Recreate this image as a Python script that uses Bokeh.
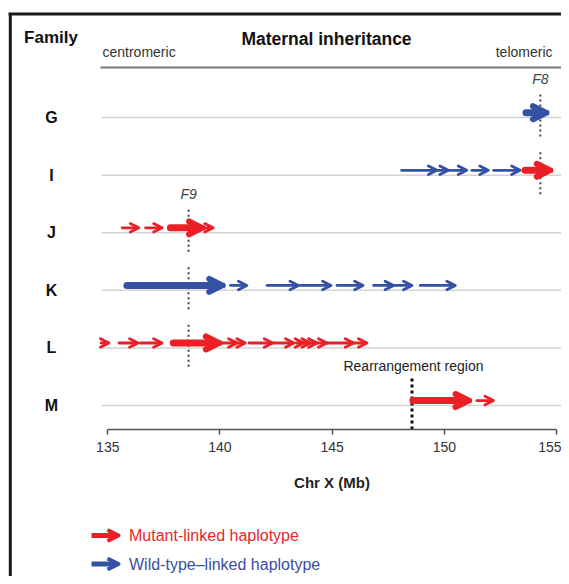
from bokeh.plotting import figure
from bokeh.models import Range1d, LinearAxis, FixedTicker, Arrow, OpenHead, ColumnDataSource
from bokeh.core.properties import value
from bokeh.embed import file_html
from bokeh.resources import INLINE

# ---------------- data ----------------
families = ["G", "I", "J", "K", "L", "M"]
row_values = [6, 5, 4, 3, 2, 1]

arrow_family = (["G"] + ["I"] * 6 + ["J"] * 4 + ["K"] * 8 + ["L"] * 14 + ["M"] * 2)
arrow_start = [153.64,
               148.10, 149.67, 150.18, 151.23, 152.20, 153.60,
               135.64, 136.68, 137.79, 139.20,
               135.85, 140.47, 142.10, 143.58, 145.22, 146.85, 147.74, 148.93,
               134.70, 135.50, 136.45, 137.92, 139.95, 140.76, 141.30, 142.35,
               143.40, 143.73, 144.03, 144.33, 144.77, 145.96,
               148.60, 151.45]
arrow_end = [154.53,
             149.67, 150.18, 151.00, 151.96, 153.38, 154.70,
             136.38, 137.42, 139.20, 139.70,
             140.10, 141.20, 143.50, 144.95, 146.38, 147.74, 148.56, 150.49,
             135.05, 136.35, 137.42, 139.95, 140.76, 141.13, 142.35, 143.30,
             143.73, 144.03, 144.33, 144.77, 145.96, 146.55,
             151.08, 152.19]
arrow_haplotype = (["wt"]
                   + ["wt"] * 5 + ["mut"]
                   + ["mut"] * 4
                   + ["wt"] * 8
                   + ["mut"] * 14
                   + ["mut"] * 2)
arrow_weight = (["thick"]
                + ["thin"] * 5 + ["thick"]
                + ["thin", "thin", "thick", "thin"]
                + ["thick"] + ["thin"] * 7
                + ["thin"] * 3 + ["thick"] + ["thin"] * 10
                + ["thick", "thin"])

gene_names = ["F8", "F9"]
gene_pos = [154.28, 138.60]
gene_rows = [["G", "I"], ["J", "K", "L"]]
rearrangement_pos = 148.56
rearrangement_label = "Rearrangement region"

x_ticks = [135, 140, 145, 150, 155]
legend_labels = ["Mutant-linked haplotype", "Wild-type\u2013linked haplotype"]
legend_keys = ["mut", "wt"]

# ---------------- styles / layout helpers ----------------
FONT = value("Liberation Sans")
COL = {"mut": "#ec1f26", "wt": "#3451a3"}
TXT_COL = {"mut": "#e8262b", "wt": "#3b4ea0"}

PX_PER_MB = 22.435
X135 = 107.3
ROW_PX = 57.57
G_PX = 117.1


def X(px):
    return 135 + (px - X135) / PX_PER_MB


def Y(py):
    return 6 - (py - G_PX) / ROW_PX


W, H = 561, 576
row_of = dict(zip(families, row_values))

p = figure(width=W, height=H, output_backend="svg", toolbar_location=None,
           x_range=Range1d(X(0), X(W)), y_range=Range1d(Y(H), Y(0)),
           x_axis_location=None, y_axis_location=None, min_border=0)
p.outline_line_color = None
p.background_fill_color = "white"
p.border_fill_color = "white"
p.xgrid.visible = False
p.ygrid.visible = False

# frame lines (left and top)
p.segment(x0=[X(9.8), X(8)], y0=[Y(13.5), Y(13.5)], x1=[X(9.8), X(W + 2)], y1=[Y(H + 2), Y(13.5)],
          line_color="#1a1a1a", line_width=3)

# top rule
p.segment(x0=[X(100)], y0=[Y(67)], x1=[X(563)], y1=[Y(67)], line_color="#7a7a7a", line_width=2)

# gridlines per family
p.segment(x0=[X(101)] * len(families), y0=row_values, x1=[X(563)] * len(families), y1=row_values,
          line_color="#d4d4d4", line_width=1.5)

# gene marker dotted lines
gx, gy0, gy1 = [], [], []
for pos, rows in zip(gene_pos, gene_rows):
    for r in rows:
        gx.append(pos)
        gy0.append(row_of[r] + 0.40)
        gy1.append(row_of[r] - 0.38)
p.segment(x0=gx, y0=gy0, x1=gx, y1=gy1, line_color="#444444", line_width=2, line_dash="2 3")

# rearrangement boundary
AXIS_Y = Y(428.5)
p.segment(x0=[rearrangement_pos], y0=[row_of["M"] + 0.47], x1=[rearrangement_pos], y1=[AXIS_Y],
          line_color="#111111", line_width=3, line_dash="3 3")

# haplotype arrows
ARROW_DY = 0.085
STYLE = {"thin": dict(body=2.8, head=8.5, head_w=2.8),
         "thick": dict(body=7, head=13, head_w=6)}
for hap in ["wt", "mut"]:
    for wgt in ["thin", "thick"]:
        idx = [i for i in range(len(arrow_start))
               if arrow_haplotype[i] == hap and arrow_weight[i] == wgt]
        if not idx:
            continue
        src = ColumnDataSource(dict(
            x0=[arrow_start[i] for i in idx],
            x1=[arrow_end[i] for i in idx],
            y=[row_of[arrow_family[i]] + ARROW_DY for i in idx]))
        st = STYLE[wgt]
        p.add_layout(Arrow(source=src, x_start="x0", y_start="y", x_end="x1", y_end="y",
                           line_color=COL[hap], line_width=st["body"], line_cap="round",
                           end=OpenHead(size=st["head"], line_color=COL[hap],
                                        line_width=st["head_w"], line_cap="round",
                                        line_join="round")))

# x axis
xaxis = LinearAxis(fixed_location=AXIS_Y, bounds=(x_ticks[0], x_ticks[-1]),
                   ticker=FixedTicker(ticks=x_ticks), axis_label="Chr X (Mb)")
xaxis.axis_line_color = "#555555"
xaxis.axis_line_width = 1.5
xaxis.major_tick_line_color = "#555555"
xaxis.major_tick_line_width = 1.5
xaxis.major_tick_out = 5
xaxis.major_tick_in = 0
xaxis.minor_tick_line_color = None
xaxis.major_label_text_font = "Liberation Sans"
xaxis.major_label_text_font_size = "14px"
xaxis.major_label_text_color = "#333333"
xaxis.major_label_standoff = 8
xaxis.axis_label_text_font = "Liberation Sans"
xaxis.axis_label_text_font_size = "15px"
xaxis.axis_label_text_font_style = "bold"
xaxis.axis_label_text_color = "#222222"
xaxis.axis_label_standoff = 18
p.add_layout(xaxis, "below")


def add_text(px, py, txt, size, color="#111111", style="normal", align="center"):
    p.text(x=[X(px)], y=[Y(py)], text=[txt], text_font=FONT, text_font_size=size,
           text_font_style=style, text_color=color, text_align=align, text_baseline="middle")


add_text(50.5, 37, "Family", "17px", style="bold")
add_text(326, 38, "Maternal inheritance", "17.5px", style="bold")
add_text(102, 51, "centromeric", "14px", color="#333333", align="left")
add_text(552, 51, "telomeric", "14px", color="#333333", align="right")

# family labels
p.text(x=[X(51)] * len(families), y=row_values, text=families, text_font=FONT,
       text_font_size="16px", text_font_style="bold", text_color="#111111",
       text_align="center", text_baseline="middle")

# gene labels above their first row
for name, pos, rows in zip(gene_names, gene_pos, gene_rows):
    p.text(x=[pos], y=[row_of[rows[0]] + 0.67], text=[name], text_font=FONT,
           text_font_size="14px", text_font_style="italic", text_color="#444444",
           text_align="center", text_baseline="middle")

add_text(413, 365, rearrangement_label, "14px", color="#222222")

# legend
for k, (lab, key) in enumerate(zip(legend_labels, legend_keys)):
    py = 535 + 28.5 * k
    lsrc = ColumnDataSource(dict(x0=[X(91)], x1=[X(118)], y=[Y(py)]))
    p.add_layout(Arrow(source=lsrc, x_start="x0", y_start="y", x_end="x1", y_end="y",
                       line_color=COL[key], line_width=5, line_cap="butt",
                       end=OpenHead(size=11, line_color=COL[key], line_width=4,
                                    line_join="round")))
    add_text(128.5, py, lab, "16px", color=TXT_COL[key], align="left")

open("out.html", "w").write(file_html(p, INLINE))
